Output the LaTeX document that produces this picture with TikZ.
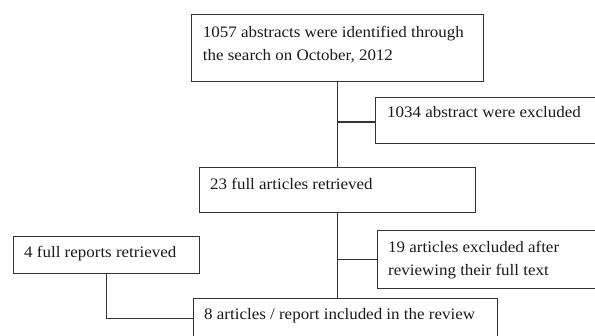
\documentclass[tikz,border=0pt]{standalone}
\usepackage{fontspec}
\setmainfont{Liberation Serif}[FakeStretch=1.06]
\usetikzlibrary{calc}
\definecolor{linec}{HTML}{333333}
\definecolor{txtc}{HTML}{1A1A1A}
\tikzset{
  box/.style={draw=linec, line width=1.3pt, rectangle, inner sep=0pt, anchor=north west},
  txt/.style={anchor=base west, inner sep=0pt, text=txtc, font=\fontsize{16}{22.6}\selectfont, align=left},
  conn/.style={draw=linec, line width=1.3pt}
}
\begin{document}
\begin{tikzpicture}[x=1pt,y=-1pt]
\useasboundingbox (0,0) rectangle (595,336);
\clip (0,0) rectangle (595,336);
\node[box, minimum width=292pt, minimum height=67pt] (b1) at (191,14) {};
\node[box, minimum width=230pt, minimum height=46pt] (b2) at (375,97) {};
\node[box, minimum width=276pt, minimum height=45pt] (b3) at (199,167) {};
\node[box, minimum width=186pt, minimum height=37pt] (b4) at (13,236) {};
\node[box, minimum width=230pt, minimum height=58pt] (b5) at (377,230) {};
\node[box, minimum width=304pt, minimum height=40pt] (b6) at (193,298) {};
\node[txt] at ($(b1.north west)+(11.7,46.6)$) {1057 abstracts were identified through\\the search on October, 2012};
\node[txt] at ($(b2.north west)+(12,21)$) {1034 abstract were excluded};
\node[txt] at ($(b3.north west)+(11,23)$) {23 full articles retrieved};
\node[txt] at ($(b4.north west)+(11,22)$) {4 full reports retrieved};
\node[txt] at ($(b5.north west)+(11,45.6)$) {19 articles excluded after\\reviewing their full text};
\node[txt] at ($(b6.north west)+(11,22)$) {8 articles / report included in the review};
\coordinate (j1) at (b1.south |- 0,122);
\coordinate (j2) at (b3.south |- b5.west);
\draw[conn] (b1.south) -- (b1.south |- b3.north);
\draw[conn] (j1) -- (j1 -| b2.west);
\draw[conn] (b3.south) -- (b3.south |- b6.north);
\draw[conn] (j2) -- (b5.west);
\draw[conn] (b4.south) |- (b6.west);
\end{tikzpicture}
\end{document}
